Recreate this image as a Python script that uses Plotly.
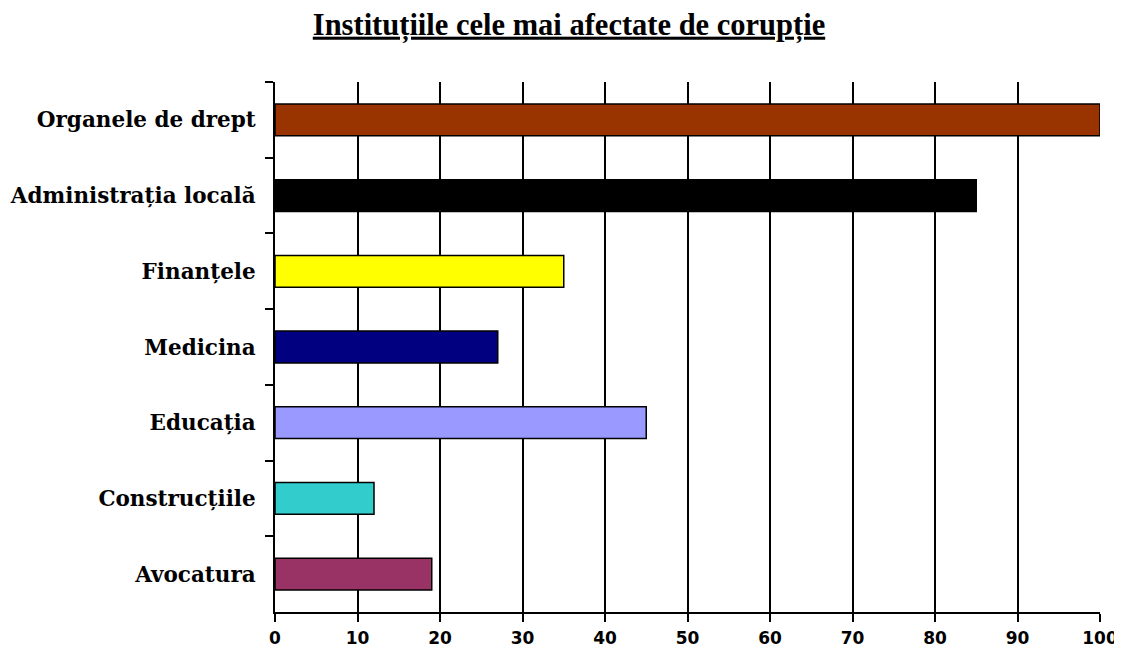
import plotly.graph_objects as go

categories = ["Organele de drept", "Administrația locală", "Finanțele", "Medicina",
              "Educația", "Construcțiile", "Avocatura"]
values = [100, 85, 35, 27, 45, 12, 19]
colors = ["#993300", "#000000", "#FFFF00", "#000080", "#9999FF", "#33CCCC", "#993366"]
x_ticks = [0, 10, 20, 30, 40, 50, 60, 70, 80, 90, 100]
title = "Instituțiile cele mai afectate de corupție"

fig = go.Figure(go.Bar(
    y=categories, x=values, orientation="h",
    marker=dict(color=colors, line=dict(color="black", width=1.5)),
    width=0.42,
))

# page body has an 8px margin, so the figure is sized to fit inside the window
W, H = 1114, 641
fig.update_layout(
    width=W, height=H,
    paper_bgcolor="white", plot_bgcolor="white",
    margin=dict(l=267, r=22, t=74, b=37),
    showlegend=False,
    title=dict(text="<u>" + title + "</u>", x=561 / W, xanchor="center", y=1 - 16 / H,
               yanchor="middle",
               font=dict(family="Liberation Serif", size=30.5, color="black", weight="bold")),
    xaxis=dict(range=[0, 100], tickvals=x_ticks, showgrid=True, gridcolor="black", gridwidth=2,
               showline=True, linecolor="black", linewidth=2, ticks="outside", ticklen=8,
               tickcolor="black", tickwidth=2, zeroline=False, automargin=False,
               ticklabelstandoff=2,
               tickfont=dict(family="DejaVu Sans", size=17, color="black", weight="bold")),
    yaxis=dict(type="category", autorange="reversed", tickson="boundaries", ticks="outside",
               ticklen=8, tickcolor="black", tickwidth=2, showline=True, linecolor="black",
               linewidth=2, showgrid=False, automargin=False, ticklabelstandoff=13,
               tickfont=dict(family="DejaVu Serif", size=21.5, color="black", weight="bold")),
)

fig.write_html("out.html")
